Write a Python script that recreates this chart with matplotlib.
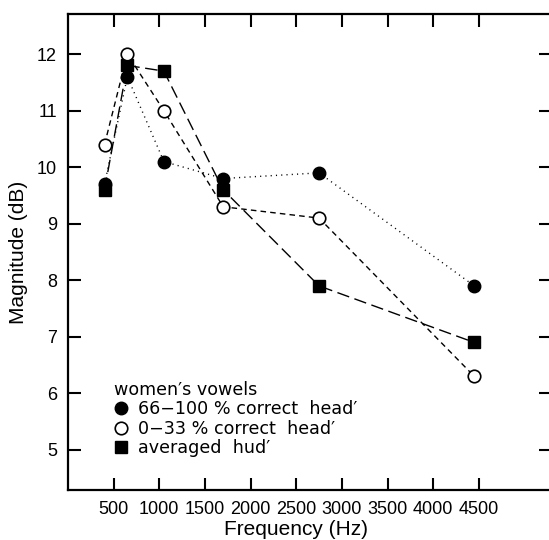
import matplotlib
matplotlib.use("Agg")
import matplotlib.pyplot as plt
from matplotlib.lines import Line2D

# frequencies (Hz) of the formant measurements
freq = [400, 650, 1050, 1700, 2750, 4450]

# magnitudes (dB)
head_good = [9.7, 11.6, 10.1, 9.8, 9.9, 7.9]    # 66-100 % correct head'
head_poor = [10.4, 12.0, 11.0, 9.3, 9.1, 6.3]   # 0-33 % correct head'
hud_avg = [9.6, 11.8, 11.7, 9.6, 7.9, 6.9]      # averaged hud'

xticks = [500, 1000, 1500, 2000, 2500, 3000, 3500, 4000, 4500]
yticks = [5, 6, 7, 8, 9, 10, 11, 12]

labels = ["66\u2212100 % correct  head\u2032",
          "0\u221233 % correct  head\u2032",
          "averaged  hud\u2032"]

plt.rcParams['font.family'] = ['Liberation Sans', 'DejaVu Sans']

fig = plt.figure(figsize=(5.49, 5.40), dpi=100)
ax = fig.add_axes([68 / 549, 50 / 540, 483 / 549, 476 / 540])

ax.plot(freq, hud_avg, color='k', lw=1.0, dashes=(9, 4),
        marker='s', ms=8.5, mfc='k', mec='k', zorder=3)
ax.plot(freq, head_poor, color='k', lw=1.0, dashes=(4, 3),
        marker='o', ms=9, mfc='white', mec='k', mew=1.2, zorder=4)
ax.plot(freq, head_good, color='k', lw=1.0, dashes=(0.8, 3),
        marker='o', ms=9, mfc='k', mec='k', zorder=5)

ax.set_xlim(0, 5290)
ax.set_ylim(4.29, 12.71)
ax.set_xticks(xticks)
ax.set_yticks(yticks)
ax.tick_params(direction='in', length=9, width=1.5, labelsize=13,
               top=True, right=True, pad=8)
for s in ax.spines.values():
    s.set_linewidth(1.6)

ax.set_xlabel("Frequency (Hz)", fontsize=15)
ax.set_ylabel("Magnitude (dB)", fontsize=15)
ax.xaxis.set_label_coords(0.472, -0.064)
ax.yaxis.set_label_coords(-0.082, 0.5)

handles = [
    Line2D([], [], ls='none', marker='o', ms=9, mfc='k', mec='k'),
    Line2D([], [], ls='none', marker='o', ms=9, mfc='white', mec='k', mew=1.2),
    Line2D([], [], ls='none', marker='s', ms=8.5, mfc='k', mec='k'),
]
leg = ax.legend(handles, labels, title="women\u2032s vowels", loc='lower left',
                bbox_to_anchor=(0.095, 0.069), frameon=False, fontsize=12.6,
                title_fontproperties={'size': 12.6}, alignment='left',
                handlelength=0.8, handletextpad=0.55, labelspacing=0.08,
                borderpad=0, borderaxespad=0)
for t in leg.get_texts() + [leg.get_title()]:
    t.set_family(['DejaVu Sans'])

fig.savefig("out.png", dpi=100)
